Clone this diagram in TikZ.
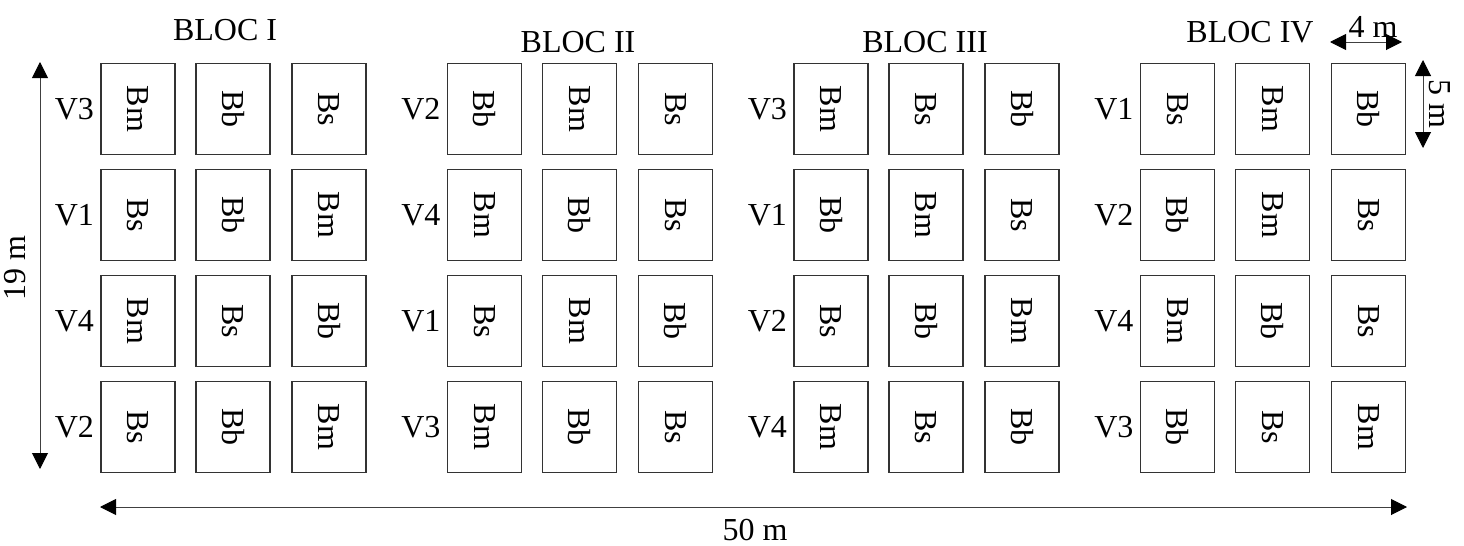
\documentclass[tikz,border=0pt]{standalone}
\usepackage{fontspec}
\setmainfont{Liberation Serif}
\usepackage{tikz}
\usetikzlibrary{arrows.meta, positioning}

\begin{document}
\begin{tikzpicture}[
    x=0.5pt, y=-0.5pt,
    font=\fontsize{16}{19}\selectfont,
    plot/.style={rectangle, draw=black!80, line width=0.65pt, minimum width=37pt, minimum height=45.5pt, inner sep=0pt},
    var/.style={inner sep=0pt},
    cote/.style={draw=black!75, line width=0.5pt, {Triangle[length=8pt, width=8pt, color=black]}-{Triangle[length=8pt, width=8pt, color=black]}}
]
\useasboundingbox (0,0) rectangle (1464,546);

% Blocs: number/x offset/rows (variety/plots left to right)
\foreach \k/\xb/\rows in {
    1/0/{V3/Bm/Bb/Bs, V1/Bs/Bb/Bm, V4/Bm/Bs/Bb, V2/Bs/Bb/Bm},
    2/346.5/{V2/Bb/Bm/Bs, V4/Bm/Bb/Bs, V1/Bs/Bm/Bb, V3/Bm/Bb/Bs},
    3/693/{V3/Bm/Bs/Bb, V1/Bb/Bm/Bs, V2/Bs/Bb/Bm, V4/Bm/Bs/Bb},
    4/1039.5/{V1/Bs/Bm/Bb, V2/Bb/Bm/Bs, V4/Bm/Bb/Bs, V3/Bb/Bs/Bm}} {
    \foreach \v/\pa/\pb/\pc [count=\r from 0] in \rows {
        \node[plot] (p\k-\r-1) at (138+\xb, 109+\r*106) {\rotatebox{-90}{\pa}};
        \node[plot] (p\k-\r-2) at (233+\xb, 109+\r*106) {\rotatebox{-90}{\pb}};
        \node[plot] (p\k-\r-3) at (329+\xb, 109+\r*106) {\rotatebox{-90}{\pc}};
        \node[var, left=3pt of p\k-\r-1] (v\k-\r) {\v};
    }
}

% Titles
\node (bloc1) at (225, 30) {BLOC I};
\node (bloc2) at (578, 42) {BLOC II};
\node (bloc3) at (925, 42) {BLOC III};
\node (bloc4) at (1250, 32) {BLOC IV};

% Dimensions
\coordinate (haut) at (40, 62);
\coordinate (bas) at (40, 469);
\coordinate (gauche) at (100, 507);
\coordinate (droite) at (1407, 507);
\coordinate (l1) at (1330, 42);
\coordinate (l2) at (1402, 42);
\coordinate (h1) at (1423, 60);
\coordinate (h2) at (1423, 148);
\draw[cote] (haut) -- (bas);
\draw[cote] (gauche) -- (droite);
\draw[cote] (l1) -- (l2);
\draw[cote] (h1) -- (h2);
\node[rotate=90] (larg) at (15, 268) {19 m};
\node (long) at (755, 530) {50 m};
\node (parl) at (1373, 27) {4 m};
\node[rotate=-90] (parh) at (1440, 104) {5 m};

\end{tikzpicture}
\end{document}
